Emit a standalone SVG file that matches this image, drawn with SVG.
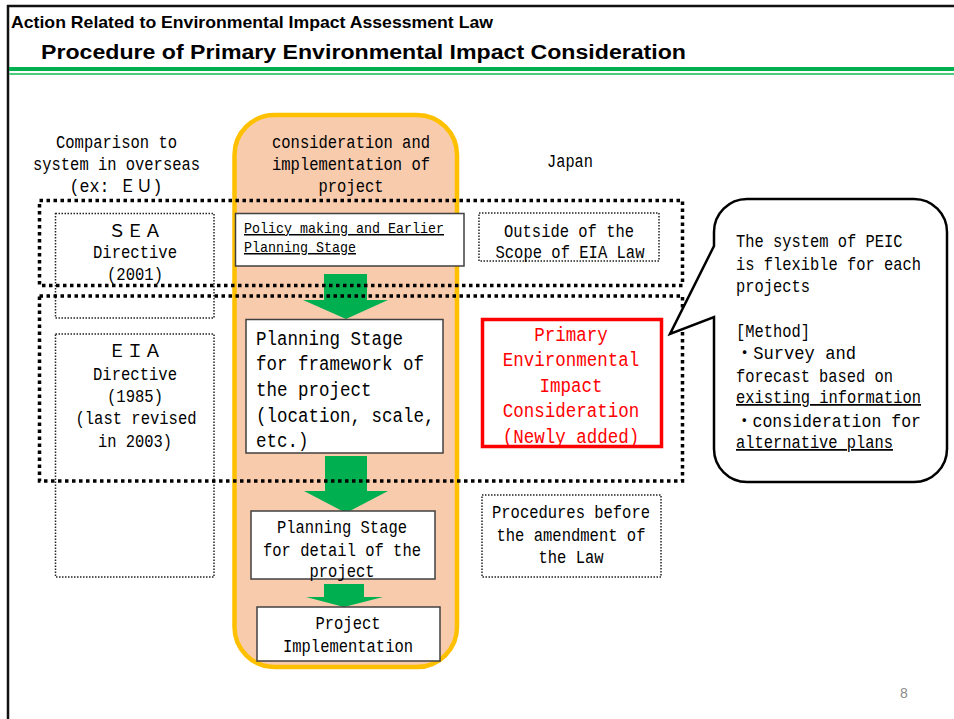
<svg xmlns="http://www.w3.org/2000/svg" width="954" height="719" viewBox="0 0 954 719">
<style>
.m{font-family:"Liberation Mono","Noto Sans CJK JP",monospace;fill:#000}
.c{text-anchor:middle}
.s17{font-size:17.5px}
.s15{font-size:15px}
.s19{font-size:19.5px}
.red{fill:#FF0000}
.u{text-decoration:underline}
.big{fill:none;stroke:#000;stroke-width:3.5;stroke-dasharray:3.5 3.5}
.small{fill:#fff;stroke:#222;stroke-width:1.5;stroke-dasharray:1.5 1.5}
.box{fill:#fff;stroke:#404040;stroke-width:1.5}
.arrow{fill:#00B050}
</style>
<rect width="954" height="719" fill="#fff"/>
<g id="frame">
<line x1="7" y1="6" x2="954" y2="6" stroke="#111" stroke-width="2.5"/>
<line x1="8" y1="5" x2="8" y2="719" stroke="#111" stroke-width="2.5"/>
<rect x="9" y="67" width="945" height="4" fill="#00B050"/>
<rect x="9" y="73" width="945" height="2" fill="#4CCB7E"/>
</g>
<g id="title">
<text x="11" y="28" font-family="'Liberation Sans Narrow','Liberation Sans',sans-serif" font-weight="bold" font-size="17" textLength="482" lengthAdjust="spacingAndGlyphs">Action Related to Environmental Impact Assessment Law</text>
<text x="41" y="59" font-family="'Liberation Sans',sans-serif" font-weight="bold" font-size="20" textLength="645" lengthAdjust="spacingAndGlyphs">Procedure of Primary Environmental Impact Consideration</text>
</g>
<g id="project-column">
<rect x="234.5" y="115" width="222.5" height="552" rx="40" ry="40" fill="#F8CBAD" stroke="#FFC000" stroke-width="4.5"/>
<text class="m c s17" x="351" y="148" textLength="158" lengthAdjust="spacingAndGlyphs">consideration and</text>
<text class="m c s17" x="351" y="170" textLength="158" lengthAdjust="spacingAndGlyphs">implementation of</text>
<text class="m c s17" x="351" y="192" textLength="65" lengthAdjust="spacingAndGlyphs">project</text>
</g>
<g id="overseas-header">
<text class="m c s17" x="116.5" y="148" textLength="121" lengthAdjust="spacingAndGlyphs">Comparison to</text>
<text class="m c s17" x="116.5" y="170" textLength="167" lengthAdjust="spacingAndGlyphs">system in overseas</text>
<text class="m c s17" x="116" y="192" textLength="93" lengthAdjust="spacingAndGlyphs">(ex: ＥＵ)</text>
</g>
<g id="japan-header">
<text class="m c s17" x="570" y="167" textLength="46" lengthAdjust="spacingAndGlyphs">Japan</text>
</g>
<g id="connectors">
<polygon class="arrow" points="324,274 367,274 367,300 388,300 346,319 303,300 324,300"/>
<polygon class="arrow" points="325,456 367,456 367,491 388,491 346,513 304,491 325,491"/>
<polygon class="arrow" points="324,584 364,584 364,597 383,597 344,607 306,597 324,597"/>
</g>
<g id="sea-directive">
<rect class="small" x="55.5" y="213.5" width="158.5" height="104.5"/>
<text class="m c s17" x="135" y="237" textLength="54" lengthAdjust="spacingAndGlyphs">ＳＥＡ</text>
<text class="m c s17" x="135" y="258" textLength="84" lengthAdjust="spacingAndGlyphs">Directive</text>
<text class="m c s17" x="135" y="280" textLength="56" lengthAdjust="spacingAndGlyphs">(2001)</text>
</g>
<g id="eia-directive">
<rect class="small" x="55.5" y="334" width="158.5" height="243"/>
<text class="m c s17" x="135" y="357" textLength="54" lengthAdjust="spacingAndGlyphs">ＥＩＡ</text>
<text class="m c s17" x="135" y="380" textLength="84" lengthAdjust="spacingAndGlyphs">Directive</text>
<text class="m c s17" x="135" y="402" textLength="56" lengthAdjust="spacingAndGlyphs">(1985)</text>
<text class="m c s17" x="136" y="424" textLength="121" lengthAdjust="spacingAndGlyphs">(last revised</text>
<text class="m c s17" x="135" y="447" textLength="74" lengthAdjust="spacingAndGlyphs">in 2003)</text>
</g>
<g id="policy-stage">
<rect class="box" x="235.5" y="213.5" width="228.5" height="52.5"/>
<text class="m s15 u" x="244" y="233" textLength="200" lengthAdjust="spacingAndGlyphs">Policy making and Earlier</text>
<text class="m s15 u" x="244" y="252" textLength="112" lengthAdjust="spacingAndGlyphs">Planning Stage</text>
</g>
<g id="outside-scope">
<rect class="small" x="479" y="213" width="180" height="48"/>
<text class="m c s17" x="569" y="237" textLength="130" lengthAdjust="spacingAndGlyphs">Outside of the</text>
<text class="m c s17" x="570" y="258" textLength="149" lengthAdjust="spacingAndGlyphs">Scope of EIA Law</text>
</g>
<g id="framework-stage">
<rect class="box" x="246" y="319.5" width="197" height="133.5"/>
<text class="m s19" x="256" y="345" textLength="147" lengthAdjust="spacingAndGlyphs">Planning Stage</text>
<text class="m s19" x="256" y="370" textLength="168" lengthAdjust="spacingAndGlyphs">for framework of</text>
<text class="m s19" x="256" y="396" textLength="115.5" lengthAdjust="spacingAndGlyphs">the project</text>
<text class="m s19" x="256" y="422" textLength="178.5" lengthAdjust="spacingAndGlyphs">(location, scale,</text>
<text class="m s19" x="256" y="447" textLength="52.5" lengthAdjust="spacingAndGlyphs">etc.)</text>
</g>
<g id="peic">
<rect x="482.5" y="319.5" width="179" height="127" fill="#fff" stroke="#FF0000" stroke-width="3.5"/>
<text class="m c s19 red" x="571" y="341" textLength="73.5" lengthAdjust="spacingAndGlyphs">Primary</text>
<text class="m c s19 red" x="571" y="366" textLength="136.5" lengthAdjust="spacingAndGlyphs">Environmental</text>
<text class="m c s19 red" x="571" y="392" textLength="63" lengthAdjust="spacingAndGlyphs">Impact</text>
<text class="m c s19 red" x="571" y="417" textLength="136.5" lengthAdjust="spacingAndGlyphs">Consideration</text>
<text class="m c s19 red" x="571" y="443" textLength="136.5" lengthAdjust="spacingAndGlyphs">(Newly added)</text>
</g>
<g id="scope-frames">
<rect class="big" x="39.5" y="200.5" width="643" height="85"/>
<rect class="big" x="39.5" y="296" width="643" height="185"/>
</g>
<g id="detail-stage">
<rect class="box" x="251" y="511" width="184" height="68"/>
<text class="m c s17" x="342" y="533" textLength="130" lengthAdjust="spacingAndGlyphs">Planning Stage</text>
<text class="m c s17" x="342" y="556" textLength="158" lengthAdjust="spacingAndGlyphs">for detail of the</text>
<text class="m c s17" x="342" y="577" textLength="65" lengthAdjust="spacingAndGlyphs">project</text>
</g>
<g id="implementation">
<rect class="box" x="257" y="607" width="183" height="54"/>
<text class="m c s17" x="348" y="629" textLength="65" lengthAdjust="spacingAndGlyphs">Project</text>
<text class="m c s17" x="348" y="652" textLength="130" lengthAdjust="spacingAndGlyphs">Implementation</text>
</g>
<g id="before-amendment">
<rect class="small" x="482" y="495" width="179" height="82"/>
<text class="m c s17" x="571" y="518" textLength="158" lengthAdjust="spacingAndGlyphs">Procedures before</text>
<text class="m c s17" x="571" y="541" textLength="149" lengthAdjust="spacingAndGlyphs">the amendment of</text>
<text class="m c s17" x="571" y="563" textLength="65" lengthAdjust="spacingAndGlyphs">the Law</text>
</g>
<g id="callout">
<path d="M747,199 H914 A33,33 0 0 1 947,232 V449 A33,33 0 0 1 914,482 H747 A33,33 0 0 1 714,449 V317 L670,334 L714,246 V232 A33,33 0 0 1 747,199 Z" fill="#fff" stroke="#000" stroke-width="2.5" stroke-linejoin="miter"/>
<text class="m s17" x="736" y="247" textLength="166.5" lengthAdjust="spacingAndGlyphs">The system of PEIC</text>
<text class="m s17" x="736" y="270" textLength="185" lengthAdjust="spacingAndGlyphs">is flexible for each</text>
<text class="m s17" x="736" y="292" textLength="74" lengthAdjust="spacingAndGlyphs">projects</text>
<text class="m s17" x="736" y="337" textLength="74" lengthAdjust="spacingAndGlyphs">[Method]</text>
<text class="m s17" x="736" y="359" textLength="120" lengthAdjust="spacingAndGlyphs">・Survey and</text>
<text class="m s17" x="736" y="382" textLength="157" lengthAdjust="spacingAndGlyphs">forecast based on</text>
<text class="m s17 u" x="736" y="403" textLength="185" lengthAdjust="spacingAndGlyphs">existing information</text>
<text class="m s17" x="736" y="427" textLength="185" lengthAdjust="spacingAndGlyphs">・consideration for</text>
<text class="m s17 u" x="736" y="448" textLength="157" lengthAdjust="spacingAndGlyphs">alternative plans</text>
</g>
<g id="page-number">
<text x="904" y="698" font-family="'Liberation Sans',sans-serif" font-size="14" fill="#8C8C8C" text-anchor="middle">8</text>
</g>
</svg>
